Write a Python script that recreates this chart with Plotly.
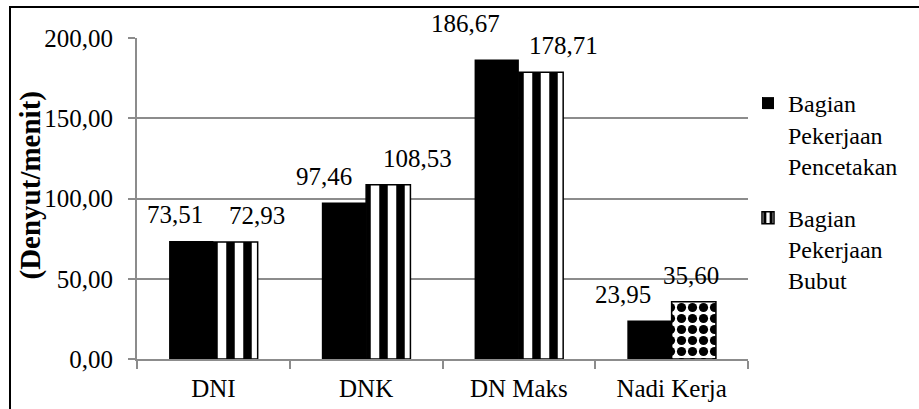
import plotly.graph_objects as go

categories = ["DNI", "DNK", "DN Maks", "Nadi Kerja"]
pencetakan = [73.51, 97.46, 186.67, 23.95]
bubut = [72.93, 108.53, 178.71, 35.60]
series_names = ["Bagian<br>Pekerjaan<br>Pencetakan", "Bagian<br>Pekerjaan<br>Bubut"]
y_ticks = [0, 50, 100, 150, 200]

FONT = "'Liberation Serif', 'Times New Roman', Times, 'DejaVu Serif', serif"
W, H = 919, 409
ML, MR, MT, MB = 137, 171, 38, 50
PW, PH = W - ML - MR, H - MT - MB
GRID = "#8c8c8c"
FS = 25

# label placement offsets (pixels) relative to category centre
lab_dx = [[-38, -42, -53, -49], [44, 51, 45, 19]]
lab_dy = [[11, 11, 20, 11], [11, 11, 11, 11]]

def fmt(v):
    return f"{v:.2f}".replace(".", ",")

fig = go.Figure()
fig.add_trace(go.Bar(
    x=categories, y=pencetakan, name=series_names[0], legendgroup="a",
    marker=dict(color="black", line=dict(width=0)),
))
fig.add_trace(go.Bar(
    x=categories, y=bubut, name=series_names[1], legendgroup="b",
    marker=dict(
        color="white",
        line=dict(color="black", width=1.5),
        pattern=dict(shape=["|", "|", "|", "."], fgcolor="black", bgcolor="white",
                     size=[17, 17, 17, 11], solidity=[0.5, 0.5, 0.5, 0.55], fillmode="replace"),
    ),
))

annotations = []
for si, vals in enumerate([pencetakan, bubut]):
    for ci, (c, v) in enumerate(zip(categories, vals)):
        annotations.append(dict(
            x=c, y=v, xref="x", yref="y", text=fmt(v), showarrow=False,
            xanchor="center", yanchor="bottom",
            xshift=lab_dx[si][ci], yshift=lab_dy[si][ci],
            font=dict(family=FONT, size=FS, color="black"),
        ))
annotations.append(dict(
    x=(30 - ML) / PW, y=(MT + PH - 185.5) / PH, xref="paper", yref="paper",
    text="<b>(Denyut/menit)</b>", textangle=-90, showarrow=False,
    xanchor="center", yanchor="middle",
    font=dict(family=FONT, size=29, color="black"),
))

fig.update_layout(
    width=W, height=H,
    margin=dict(l=ML, r=MR, t=MT, b=MB, autoexpand=False),
    paper_bgcolor="white", plot_bgcolor="white",
    separators=",.",
    barmode="group", bargap=0.42, bargroupgap=0,
    font=dict(family=FONT, size=FS, color="black"),
    showlegend=True,
    legend=dict(
        x=(748 - ML) / PW, xanchor="left", y=(MT + PH - 81) / PH, yanchor="top",
        font=dict(family=FONT, size=24, color="black"),
        valign="top", tracegroupgap=18, bgcolor="rgba(0,0,0,0)",
    ),
    annotations=annotations,
    shapes=[dict(
        type="rect", xref="paper", yref="paper",
        x0=(10 - ML) / PW, x1=(930 - ML) / PW,
        y0=(MT + PH - 420) / PH, y1=(MT + PH - 7) / PH,
        line=dict(color="black", width=2), fillcolor="rgba(0,0,0,0)", layer="below",
    )],
)
fig.update_xaxes(
    type="category", showline=True, linecolor=GRID, linewidth=2,
    ticks="outside", tickson="boundaries", ticklen=8, tickcolor=GRID, tickwidth=2,
    showgrid=False, tickfont=dict(family=FONT, size=FS, color="black"),
    ticklabelstandoff=6,
)
fig.update_yaxes(
    range=[0, 200], tickvals=y_ticks, tickformat=".2f",
    showline=True, linecolor=GRID, linewidth=2,
    ticks="outside", ticklen=7, tickcolor=GRID, tickwidth=2,
    showgrid=True, gridcolor=GRID, gridwidth=2, zeroline=False,
    tickfont=dict(family=FONT, size=FS, color="black"),
    ticklabelstandoff=10,
)
fig.write_html("out.html", config={"displayModeBar": False},
               post_script="document.body.style.margin='0';")
